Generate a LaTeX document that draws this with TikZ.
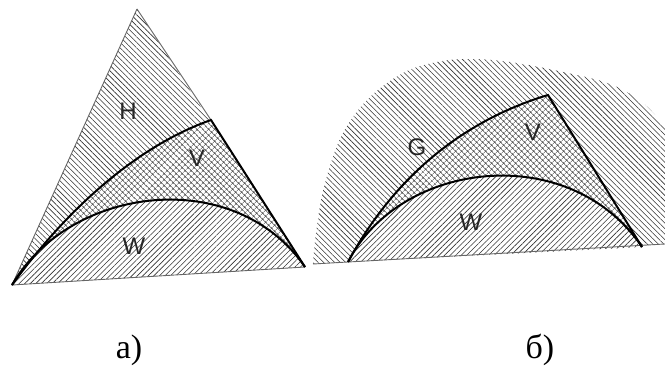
\documentclass[tikz,border=0pt]{standalone}
\usepackage{fontspec}
\setmainfont{Liberation Serif}
\setsansfont{Liberation Sans}
\usetikzlibrary{patterns.meta}
\tikzset{
  nwhatch/.style={pattern={Lines[angle=-45,distance=3.9pt,line width=0.6pt]},pattern color=black!80},
  nehatch/.style={pattern={Lines[angle=45,distance=3.9pt,line width=0.6pt]},pattern color=black!80},
  crosshatch/.style={pattern={Hatch[angle=45,distance=4pt,line width=0.5pt]},pattern color=black!70},
  whitebg/.style={preaction={fill=white}},
  bold curve/.style={line width=2pt,draw=black},
  thin edge/.style={line width=0.9pt,draw=black!60},
  lab/.style={font=\fontsize{24}{24}\selectfont\sffamily,text=black!85,inner sep=0pt},
  captiontext/.style={font=\fontsize{34}{34}\selectfont\rmfamily,inner sep=0pt},
}
\begin{document}
\begin{tikzpicture}[x=1pt,y=-1pt]
\useasboundingbox (0,0) rectangle (665,369);
\clip (0,0) rectangle (665,369);
% ---------- left figure a)
\coordinate (A) at (137,9);
\coordinate (BL) at (12,285);
\coordinate (BR) at (305,267);
\coordinate (VC) at (211,120);
\path[nwhatch] (A) -- (BL) -- (BR) -- cycle;
\path[whitebg,crosshatch] (BL) .. controls (70,205) and (140,145) .. (VC) -- (BR)
   .. controls (235,165) and (70,185) .. (BL) -- cycle;
\path[whitebg,nehatch] (BL) .. controls (70,185) and (235,165) .. (BR) -- cycle;
\draw[thin edge] (A) -- (BL) -- (BR);
\draw[thin edge] (A) -- (VC);
\draw[bold curve] (BL) .. controls (70,205) and (140,145) .. (VC) -- (BR);
\draw[bold curve] (BL) .. controls (70,185) and (235,165) .. (BR);
\node[lab] (H) at (128,111) {H};
\node[lab] (V1) at (197,158) {V};
\node[lab] (W1) at (134,246) {W};
% ---------- right figure б)
\coordinate (L0) at (313,264);
\coordinate (R0) at (665,244);
\coordinate (P) at (348,262);
\coordinate (Q) at (642,247);
\coordinate (VC2) at (548,95);
\path[nwhatch] plot[smooth,tension=0.6] coordinates {(313,264) (316,233) (324,187) (341,137) (367,100) (403,73) (437,62) (470,59) (510,62) (563,72) (610,84) (643,103) (668,130)}
   -- (668,244) -- (L0) -- cycle;
\path[whitebg,crosshatch] (P) .. controls (395,175) and (465,120) .. (VC2) -- (Q)
   .. controls (570,140) and (400,160) .. (P) -- cycle;
\path[whitebg,nehatch] (P) .. controls (400,160) and (570,140) .. (Q) -- cycle;
\draw[thin edge] (L0) -- (R0);
\draw[bold curve] (P) .. controls (395,175) and (465,120) .. (VC2) -- (Q);
\draw[bold curve] (P) .. controls (400,160) and (570,140) .. (Q);
\node[lab] (G) at (417,147) {G};
\node[lab] (V2) at (533,132) {V};
\node[lab] (W2) at (471,222) {W};
% ---------- captions
\node[captiontext] (ca) at (129,350) {а)};
\node[captiontext] (cb) at (540,350) {б)};
\end{tikzpicture}
\end{document}
